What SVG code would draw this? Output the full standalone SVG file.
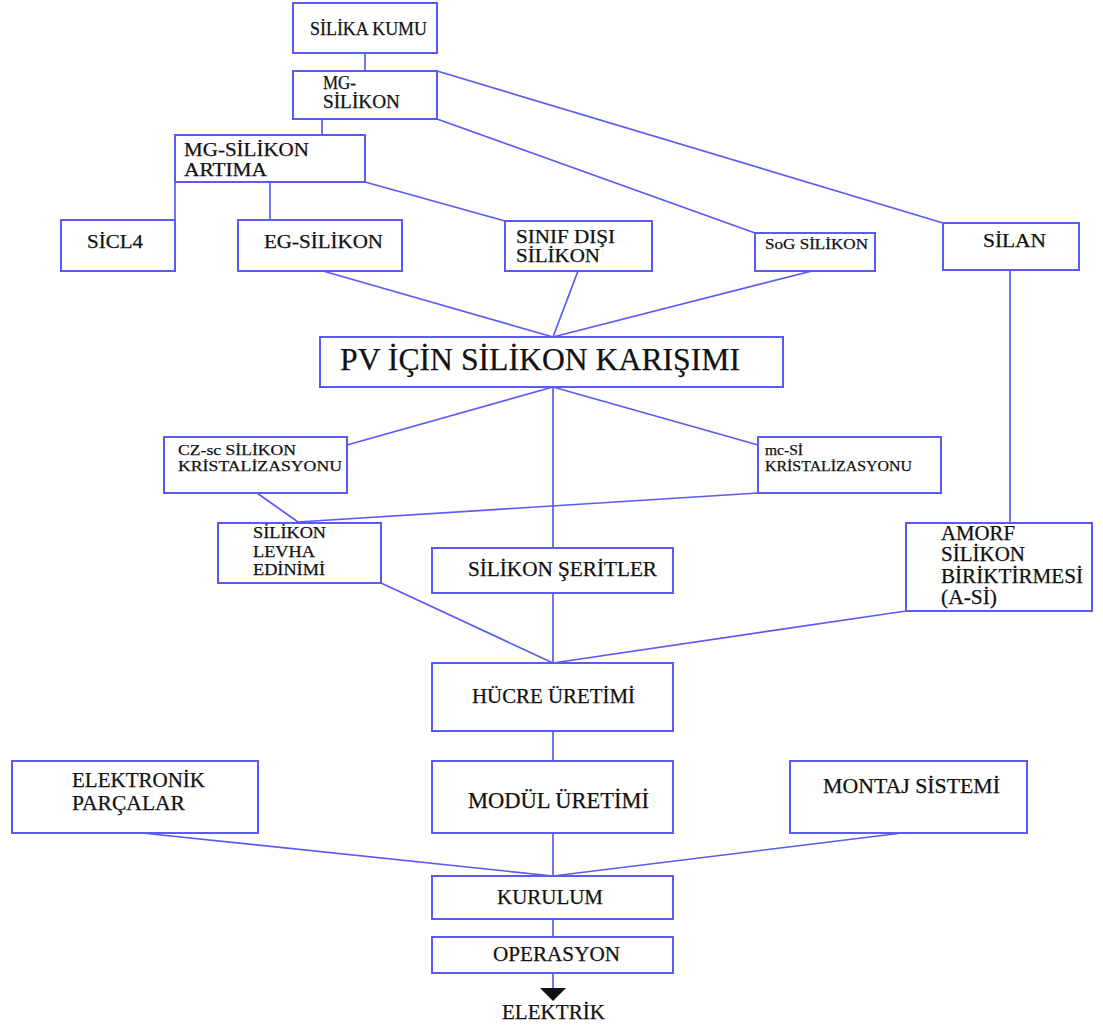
<svg xmlns="http://www.w3.org/2000/svg" width="1103" height="1030" viewBox="0 0 1103 1030">
  <style>
    .box { fill: #ffffff; stroke: #5a5af5; stroke-width: 2; }
    .wire { fill: none; stroke: #5a5af5; stroke-width: 1.7; }
    text { font-family: "Liberation Serif", "Times New Roman", serif; fill: #111111; stroke: #111111; stroke-width: 0.25; }
  </style>
  <defs>
    <!-- solid arrowhead, drawn pointing along +x so orient="auto" follows the line -->
    <marker id="arrow" viewBox="0 0 13 26" refX="12" refY="13" markerWidth="13" markerHeight="26" markerUnits="userSpaceOnUse" orient="auto">
      <path d="M0,0 L13,13 L0,26 Z" fill="#111111"/>
    </marker>
  </defs>
  <rect width="1103" height="1030" fill="#ffffff"/>

  <!-- connectors -->
  <g id="connectors">
    <line class="wire" x1="365" y1="53" x2="365" y2="71"/>
    <line class="wire" x1="322" y1="119" x2="322" y2="135"/>
    <line class="wire" x1="437" y1="71" x2="943" y2="223"/>
    <line class="wire" x1="437" y1="119" x2="755" y2="233"/>
    <line class="wire" x1="365" y1="182" x2="505" y2="221"/>
    <line class="wire" x1="175" y1="182" x2="175" y2="220"/>
    <line class="wire" x1="270" y1="182" x2="270" y2="220"/>
    <line class="wire" x1="323" y1="271" x2="553" y2="337"/>
    <line class="wire" x1="578" y1="271" x2="553" y2="337"/>
    <line class="wire" x1="812" y1="271" x2="553" y2="337"/>
    <line class="wire" x1="1010" y1="270" x2="1010" y2="523"/>
    <line class="wire" x1="553" y1="387" x2="347" y2="445"/>
    <line class="wire" x1="553" y1="387" x2="758" y2="445"/>
    <line class="wire" x1="553" y1="387" x2="553" y2="548"/>
    <line class="wire" x1="257" y1="493" x2="298" y2="522"/>
    <line class="wire" x1="758" y1="493" x2="298" y2="522"/>
    <line class="wire" x1="553" y1="593" x2="553" y2="663"/>
    <line class="wire" x1="381" y1="583" x2="553" y2="663"/>
    <line class="wire" x1="906" y1="611" x2="553" y2="663"/>
    <line class="wire" x1="553" y1="731" x2="553" y2="761"/>
    <line class="wire" x1="553" y1="833" x2="553" y2="876"/>
    <line class="wire" x1="142" y1="833" x2="553" y2="876"/>
    <line class="wire" x1="902" y1="833" x2="553" y2="876"/>
    <line class="wire" x1="553" y1="919" x2="553" y2="937"/>
    <line class="wire" x1="553" y1="973" x2="553" y2="1000" marker-end="url(#arrow)"/>
  </g>

  <g id="silika-kumu">
    <rect class="box" x="293" y="3" width="144" height="50"/>
    <text x="310" y="35" font-size="19" textLength="117" lengthAdjust="spacingAndGlyphs">SİLİKA KUMU</text>
  </g>
  <g id="mg-silikon">
    <rect class="box" x="293" y="71" width="144" height="48"/>
    <text x="323" y="89" font-size="18" textLength="33" lengthAdjust="spacingAndGlyphs">MG-</text>
    <text x="323" y="108" font-size="18" textLength="77" lengthAdjust="spacingAndGlyphs">SİLİKON</text>
  </g>
  <g id="mg-silikon-artima">
    <rect class="box" x="175" y="135" width="190" height="47"/>
    <text x="184" y="156" font-size="19" textLength="125" lengthAdjust="spacingAndGlyphs">MG-SİLİKON</text>
    <text x="184" y="176" font-size="19" textLength="83" lengthAdjust="spacingAndGlyphs">ARTIMA</text>
  </g>
  <g id="sicl4">
    <rect class="box" x="61" y="220" width="114" height="51"/>
    <text x="87" y="248" font-size="19" textLength="56" lengthAdjust="spacingAndGlyphs">SİCL4</text>
  </g>
  <g id="eg-silikon">
    <rect class="box" x="238" y="220" width="164" height="51"/>
    <text x="264" y="248" font-size="19" textLength="119" lengthAdjust="spacingAndGlyphs">EG-SİLİKON</text>
  </g>
  <g id="sinif-disi-silikon">
    <rect class="box" x="505" y="221" width="147" height="50"/>
    <text x="516" y="243" font-size="18" textLength="99" lengthAdjust="spacingAndGlyphs">SINIF DIŞI</text>
    <text x="516" y="262" font-size="18" textLength="84" lengthAdjust="spacingAndGlyphs">SİLİKON</text>
  </g>
  <g id="sog-silikon">
    <rect class="box" x="755" y="233" width="120" height="38"/>
    <text x="765" y="249" font-size="15" textLength="103" lengthAdjust="spacingAndGlyphs">SoG SİLİKON</text>
  </g>
  <g id="silan">
    <rect class="box" x="943" y="223" width="136" height="47"/>
    <text x="983" y="247" font-size="19" textLength="63" lengthAdjust="spacingAndGlyphs">SİLAN</text>
  </g>
  <g id="pv-silikon-karisimi">
    <rect class="box" x="320" y="337" width="463" height="50"/>
    <text x="340" y="370" font-size="32" textLength="400" lengthAdjust="spacingAndGlyphs">PV İÇİN SİLİKON KARIŞIMI</text>
  </g>
  <g id="cz-sc-kristalizasyonu">
    <rect class="box" x="164" y="437" width="183" height="56"/>
    <text x="178" y="455" font-size="15.5" textLength="118" lengthAdjust="spacingAndGlyphs">CZ-sc SİLİKON</text>
    <text x="178" y="471" font-size="15.5" textLength="164" lengthAdjust="spacingAndGlyphs">KRİSTALİZASYONU</text>
  </g>
  <g id="mc-si-kristalizasyonu">
    <rect class="box" x="758" y="437" width="183" height="56"/>
    <text x="765" y="455" font-size="14.5" textLength="38" lengthAdjust="spacingAndGlyphs">mc-Sİ</text>
    <text x="765" y="471" font-size="14.5" textLength="147" lengthAdjust="spacingAndGlyphs">KRİSTALİZASYONU</text>
  </g>
  <g id="silikon-levha-edinimi">
    <rect class="box" x="218" y="523" width="163" height="60"/>
    <text x="253" y="538" font-size="17.5" textLength="73" lengthAdjust="spacingAndGlyphs">SİLİKON</text>
    <text x="253" y="557" font-size="17.5" textLength="62" lengthAdjust="spacingAndGlyphs">LEVHA</text>
    <text x="253" y="575" font-size="17.5" textLength="72" lengthAdjust="spacingAndGlyphs">EDİNİMİ</text>
  </g>
  <g id="silikon-seritler">
    <rect class="box" x="432" y="548" width="241" height="45"/>
    <text x="468" y="576" font-size="21" textLength="189" lengthAdjust="spacingAndGlyphs">SİLİKON ŞERİTLER</text>
  </g>
  <g id="amorf-silikon">
    <rect class="box" x="906" y="523" width="186" height="88"/>
    <text x="941" y="540" font-size="20" textLength="74" lengthAdjust="spacingAndGlyphs">AMORF</text>
    <text x="941" y="561" font-size="20" textLength="84" lengthAdjust="spacingAndGlyphs">SİLİKON</text>
    <text x="941" y="583" font-size="20" textLength="142" lengthAdjust="spacingAndGlyphs">BİRİKTİRMESİ</text>
    <text x="941" y="604" font-size="20" textLength="56" lengthAdjust="spacingAndGlyphs">(A-Sİ)</text>
  </g>
  <g id="hucre-uretimi">
    <rect class="box" x="432" y="663" width="241" height="68"/>
    <text x="472" y="703" font-size="21" textLength="163" lengthAdjust="spacingAndGlyphs">HÜCRE ÜRETİMİ</text>
  </g>
  <g id="elektronik-parcalar">
    <rect class="box" x="12" y="761" width="246" height="72"/>
    <text x="72" y="787" font-size="21" textLength="133" lengthAdjust="spacingAndGlyphs">ELEKTRONİK</text>
    <text x="72" y="810" font-size="21" textLength="113" lengthAdjust="spacingAndGlyphs">PARÇALAR</text>
  </g>
  <g id="modul-uretimi">
    <rect class="box" x="432" y="761" width="241" height="72"/>
    <text x="468" y="808" font-size="23" textLength="181" lengthAdjust="spacingAndGlyphs">MODÜL ÜRETİMİ</text>
  </g>
  <g id="montaj-sistemi">
    <rect class="box" x="790" y="761" width="237" height="72"/>
    <text x="823" y="793" font-size="21" textLength="177" lengthAdjust="spacingAndGlyphs">MONTAJ SİSTEMİ</text>
  </g>
  <g id="kurulum">
    <rect class="box" x="432" y="876" width="241" height="43"/>
    <text x="497" y="904" font-size="21" textLength="106" lengthAdjust="spacingAndGlyphs">KURULUM</text>
  </g>
  <g id="operasyon">
    <rect class="box" x="432" y="937" width="241" height="36"/>
    <text x="493" y="961" font-size="21" textLength="127" lengthAdjust="spacingAndGlyphs">OPERASYON</text>
  </g>
  <g id="elektrik">
    <text x="502" y="1019" font-size="21" textLength="103" lengthAdjust="spacingAndGlyphs">ELEKTRİK</text>
  </g>
</svg>
